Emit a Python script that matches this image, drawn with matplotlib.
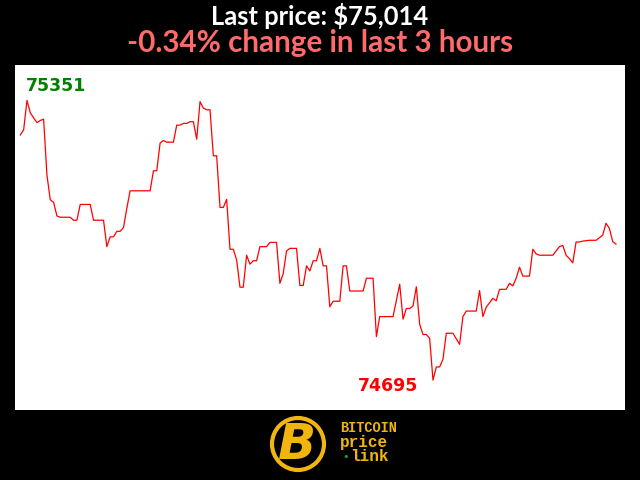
import matplotlib
matplotlib.use('Agg')
import matplotlib.pyplot as plt
from matplotlib.patches import Ellipse

# minutes since start (1-min data, only the turning points) and BTC price
minutes = [0, 1, 2, 3, 4, 5, 6, 7, 8, 9, 10, 11, 12, 15, 16, 17, 18, 21, 22, 25,
           26, 27, 28, 29, 30, 31, 32, 33, 39, 40, 41, 42, 43, 44, 46, 47, 48, 49,
           50, 51, 52, 53, 54, 55, 56, 57, 58, 59, 60, 61, 62, 63, 64, 65, 66, 67,
           68, 69, 70, 71, 72, 74, 75, 77, 78, 79, 80, 81, 83, 84, 85, 86, 87, 88,
           89, 90, 91, 92, 93, 94, 96, 97, 98, 99, 103, 104, 106, 107, 108, 112,
           114, 115, 116, 117, 118, 119, 120, 121, 122, 123, 124, 125, 126, 127,
           128, 130, 132, 133, 134, 137, 138, 139, 140, 142, 143, 144, 146, 147,
           148, 149, 150, 151, 153, 154, 155, 156, 160, 162, 163, 164, 165, 166,
           167, 168, 169, 171, 173, 175, 176, 177, 178, 179]
prices = [75270, 75282, 75351, 75322, 75310, 75299, 75304, 75307, 75176, 75118,
          75112, 75080, 75077, 75077, 75070, 75070, 75107, 75107, 75070, 75070,
          75008, 75031, 75031, 75044, 75044, 75053, 75098, 75139, 75139, 75186,
          75186, 75251, 75257, 75253, 75253, 75293, 75293, 75297, 75297, 75301,
          75301, 75260, 75348, 75333, 75329, 75329, 75221, 75221, 75100, 75100,
          75119, 75002, 75002, 74977, 74913, 74913, 74988, 74967, 74975, 74975,
          75008, 75008, 75018, 75018, 74922, 74945, 74998, 75004, 75004, 74917,
          74917, 74963, 74951, 74975, 74975, 75004, 74963, 74963, 74867, 74880,
          74880, 74963, 74963, 74904, 74904, 74934, 74934, 74797, 74844, 74844,
          74920, 74838, 74863, 74863, 74869, 74914, 74826, 74802, 74802, 74793,
          74695, 74726, 74726, 74744, 74805, 74805, 74779, 74844, 74857, 74857,
          74905, 74844, 74866, 74887, 74881, 74908, 74908, 74922, 74916, 74934,
          74960, 74939, 74939, 75002, 74991, 74988, 74988, 75008, 75011, 74988,
          74980, 74970, 75019, 75019, 75021, 75023, 75023, 75035, 75063, 75051,
          75020, 75014]

title_1 = 'Last price: $75,014'
title_2 = '-0.34% change in last 3 hours'
gold = '#f2b50f'

fig = plt.figure(figsize=(6.4, 4.8), dpi=100, facecolor='black')
ax = fig.add_axes([15 / 640, 70 / 480, 610 / 640, 345 / 480])
ax.set_facecolor('white')
ax.plot(minutes, prices, color='red', lw=0.9)
ax.set_xlim(-1.6, 181.7)
ax.set_ylim(74625, 75434)
ax.axis('off')
ax.add_patch(plt.Rectangle((0, 0), 1, 1, transform=ax.transAxes,
                           color='white', zorder=-1))

# max / min labels
i_max = prices.index(max(prices))
i_min = prices.index(min(prices))
ax.annotate(str(max(prices)), (minutes[i_max], prices[i_max]), xytext=(-1, 9),
            textcoords='offset pixels', ha='left', va='baseline',
            color='green', fontsize=12.5, fontweight='bold')
ax.annotate(str(min(prices)), (minutes[i_min], prices[i_min]), xytext=(-15, -11),
            textcoords='offset pixels', ha='right', va='baseline',
            color='red', fontsize=12.5, fontweight='bold')

fig.text(0.5, 1 - 25 / 480, title_1, ha='center', va='baseline', color='white',
         fontsize=18.4, fontweight='bold', family='Lato')
fig.text(0.5, 1 - 52 / 480, title_2, ha='center', va='baseline', color='#ff6b6b',
         fontsize=21.3, fontweight='bold', family='Lato')

# logo at the bottom
fig.patches.append(Ellipse((298 / 640, 1 - 444 / 480), 52 / 640, 52 / 480,
                           transform=fig.transFigure, fill=False,
                           edgecolor=gold, lw=3))
fig.text(297 / 640, 1 - 445 / 480, 'B', ha='center', va='center', color=gold,
         fontsize=36, fontweight='bold', style='italic')
fig.text(340 / 640, 1 - 432.5 / 480, 'BITCOIN', ha='left', va='baseline', color=gold,
         fontsize=9.8, fontweight='bold', family='Liberation Mono')
fig.text(340 / 640, 1 - 447 / 480, 'price', ha='left', va='baseline', color=gold,
         fontsize=11.5, fontweight='bold', family='Liberation Mono')
fig.text(342 / 640, 1 - 457 / 480, '\u2022', ha='left', va='center', color='#2ca02c',
         fontsize=8, family='DejaVu Sans')
fig.text(350 / 640, 1 - 461 / 480, 'link', ha='left', va='baseline', color=gold,
         fontsize=11.5, fontweight='bold', family='Liberation Mono')

fig.savefig('out.png', dpi=100, facecolor='black')
